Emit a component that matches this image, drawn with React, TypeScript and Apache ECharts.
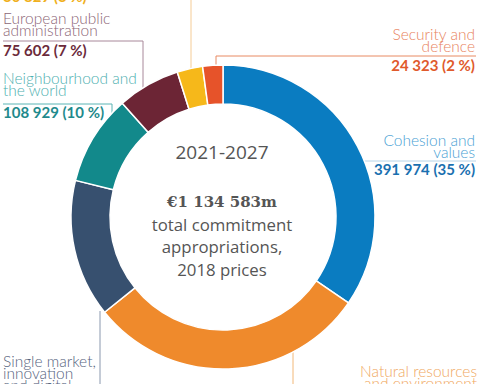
import React, { useEffect, useRef } from "react";
import * as echarts from "echarts";

const categories = [
  "Cohesion and values",
  "Natural resources and environment",
  "Single market, innovation and digital",
  "Neighbourhood and the world",
  "European public administration",
  "Migration and border management",
  "Security and defence",
];
const labelLines = [
  "Cohesion and\nvalues",
  "Natural resources\nand environment",
  "Single market,\ninnovation\nand digital",
  "Neighbourhood and\nthe world",
  "European public\nadministration",
  "Migration and\nborder management",
  "Security and\ndefence",
];
const values = [391974, 336623, 166303, 108929, 75602, 30829, 24323];
const shares = [35, 30, 15, 10, 7, 3, 2];
const colors = ["#0a7cc1", "#ef8a2c", "#37506f", "#12898b", "#6c2535", "#f6b81a", "#e6532a"];
const nameColors = ["#4a9fd4", "#f0a862", "#56647e", "#4eb0b0", "#8c6676", "#f2b83a", "#e8845e"];
const valueColors = ["#1a70b0", "#e8842a", "#3c4f6e", "#1f8a8c", "#6b2a3a", "#f0b020", "#e05a2c"];
const lineColors = ["#b8d4e8", "#f2b878", "#8a98ae", "#5ab4b4", "#a8889a", "#f5cc96", "#e88a62"];

const centerLines = ["2021-2027", "€1 134 583m", "total commitment", "appropriations,", "2018 prices"];

const fmt = (v: number) => String(v).replace(/\B(?=(\d{3})+(?!\d))/g, " ");
const valueText = (i: number) => `${fmt(values[i])} (${shares[i]} %)`;

export default function App() {
  const ref = useRef<HTMLDivElement>(null);
  useEffect(() => {
    if (!ref.current) return;
    const chart = echarts.init(ref.current, undefined, { renderer: "svg" });
    const nameFont = "300 15.5px Lato";
    const valFont = "bold 15px Lato";
    const txt = (text: string, x: number, y: number, fill: string, font: string, align = "left", lh = 12) => ({
      type: "text",
      x,
      y,
      style: { text, fill, font, textAlign: align, textVerticalAlign: "top", lineHeight: lh },
    });
    const pl = (points: number[][], stroke: string) => ({
      type: "polyline",
      shape: { points },
      style: { stroke, lineWidth: 1, fill: "none" },
    });
    const graphic: any[] = [
      // Migration (top, clipped)
      txt(labelLines[5], 3, -40, nameColors[5], nameFont),
      txt(valueText(5), 3, -10, valueColors[5], valFont),
      pl([[191, 69], [191, -2]], lineColors[5]),
      // European public administration
      txt(labelLines[4], 3, 12, nameColors[4], nameFont),
      pl([[143, 88], [143, 41], [3, 41]], lineColors[4]),
      txt(valueText(4), 3, 44, valueColors[4], valFont),
      // Neighbourhood
      txt(labelLines[3], 3, 72, nameColors[3], nameFont),
      pl([[112, 113], [112, 104], [3, 104]], lineColors[3]),
      txt(valueText(3), 3, 106, valueColors[3], valFont),
      // Security
      txt(labelLines[6], 475, 28, nameColors[6], nameFont, "right"),
      pl([[216, 67], [216, 56], [476, 56]], lineColors[6]),
      txt(valueText(6), 475, 59, valueColors[6], valFont, "right"),
      // Cohesion
      txt(labelLines[0], 475, 134, nameColors[0], nameFont, "right"),
      pl([[364, 161], [476, 161]], lineColors[0]),
      txt(valueText(0), 475, 163, valueColors[0], valFont, "right"),
      // Single market
      txt(labelLines[2], 3, 355, nameColors[2], nameFont),
      pl([[100, 311], [100, 386]], lineColors[2]),
      // Natural resources
      txt(labelLines[1], 477, 365, nameColors[1], nameFont, "right"),
      pl([[293, 352], [293, 386]], lineColors[1]),
      // Centre
      txt(centerLines[0], 222, 146, "#555555", "19px 'Open Sans'", "center"),
      txt(centerLines[1], 222, 196, "#555555", "bold 15px 'DejaVu Serif'", "center"),
      txt(centerLines[2], 222, 218, "#555555", "16.8px 'Open Sans'", "center"),
      txt(centerLines[3], 222, 240, "#555555", "16.8px 'Open Sans'", "center"),
      txt(centerLines[4], 222, 263, "#555555", "16.8px 'Open Sans'", "center"),
    ];
    chart.setOption({
      animation: false,
      backgroundColor: "#ffffff",
      series: [
        {
          type: "pie",
          center: [223, 217],
          radius: [113, 152],
          startAngle: 90,
          clockwise: true,
          label: { show: false },
          labelLine: { show: false },
          itemStyle: { borderColor: "#ffffff", borderWidth: 1.5 },
          emphasis: { disabled: true },
          data: categories.map((name, i) => ({
            name,
            value: values[i],
            itemStyle: { color: colors[i] },
          })),
        },
      ],
      graphic,
    });
    return () => chart.dispose();
  }, []);
  return (
    <div
      ref={ref}
      style={{ position: "fixed", left: 0, top: 0, width: 480, height: 384, background: "#fff" }}
    />
  );
}
